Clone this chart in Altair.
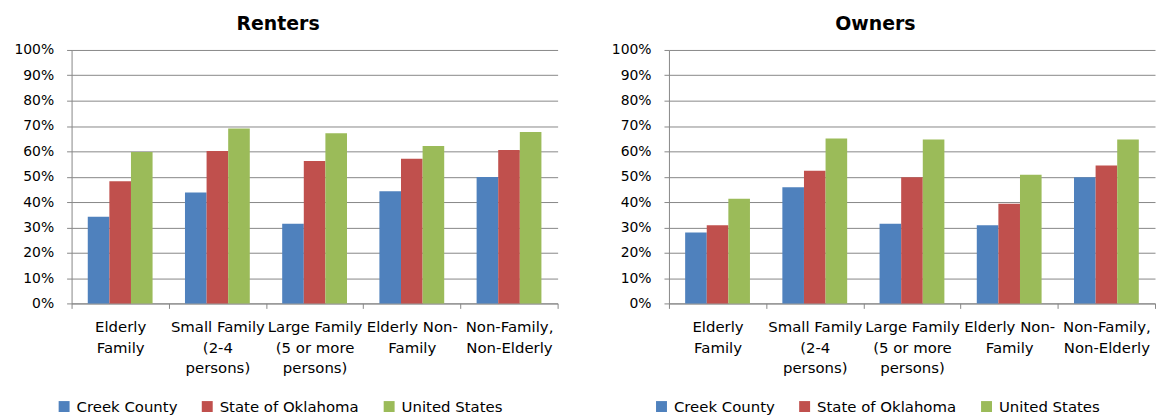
import altair as alt
import pandas as pd

categories = ["Elderly\nFamily", "Small Family\n(2-4\npersons)", "Large Family\n(5 or more\npersons)",
              "Elderly Non-\nFamily", "Non-Family,\nNon-Elderly"]
series = ["Creek County", "State of Oklahoma", "United States"]
colors = ["#4F81BD", "#C0504D", "#9BBB59"]

renters_creek = [0.342, 0.438, 0.314, 0.443, 0.499]
renters_ok = [0.482, 0.601, 0.562, 0.571, 0.605]
renters_us = [0.597, 0.690, 0.671, 0.621, 0.676]

owners_creek = [0.280, 0.458, 0.314, 0.308, 0.498]
owners_ok = [0.308, 0.523, 0.498, 0.393, 0.544]
owners_us = [0.413, 0.651, 0.647, 0.508, 0.647]

y_ticks = [0, 0.1, 0.2, 0.3, 0.4, 0.5, 0.6, 0.7, 0.8, 0.9, 1.0]

FONT = "DejaVu Sans"


def make_df(vals_list):
    rows = []
    for s, vals in zip(series, vals_list):
        for c, v in zip(categories, vals):
            rows.append({"category": c, "series": s, "value": v})
    return pd.DataFrame(rows)


def panel(title, df, legend_x):
    return alt.Chart(df, title=alt.TitleParams(title, anchor="middle", frame="bounds", dx=-8)).mark_bar().encode(
        x=alt.X("category:N", sort=categories, title=None,
                scale=alt.Scale(paddingInner=0, paddingOuter=0),
                axis=alt.Axis(labelAngle=0, tickBand="extent", tickSize=5, labelPadding=11,
                              labelExpr="split(datum.label, '\\n')", labelLineHeight=21,
                              labelFontSize=15, labelLimit=200, domainColor="#878787",
                              tickColor="#878787", grid=False)),
        xOffset=alt.XOffset("series:N", sort=series,
                            scale=alt.Scale(paddingInner=0, paddingOuter=0.75)),
        y=alt.Y("value:Q", title=None,
                scale=alt.Scale(domain=[0, 1], nice=False),
                axis=alt.Axis(values=y_ticks, format=".0%", tickSize=5, labelPadding=13,
                              labelFontSize=14, gridColor="#878787", domainColor="#878787",
                              tickColor="#878787")),
        color=alt.Color("series:N", sort=series, title=None,
                        scale=alt.Scale(domain=series, range=colors),
                        legend=alt.Legend(orient="none", legendX=legend_x, legendY=351,
                                          direction="horizontal", columns=3,
                                          symbolType="square", symbolSize=121,
                                          symbolStrokeWidth=0, labelFontSize=15,
                                          columnPadding=22, labelOffset=5)),
    ).properties(width=489, height=255)


left = panel("Renters", make_df([renters_creek, renters_ok, renters_us]), -15)
right = panel("Owners", make_df([owners_creek, owners_ok, owners_us]), -15)

chart = alt.hconcat(left, right, spacing=52).resolve_legend(color="independent").resolve_scale(
    color="independent").properties(
    padding={"left": 13, "top": 14, "right": 0, "bottom": 0}
).configure(font=FONT, background="white").configure_view(stroke=None).configure_title(
    fontSize=19, fontWeight="bold", color="#000000", offset=9, font=FONT
).configure_axis(labelColor="#000000", labelFont=FONT).configure_legend(labelColor="#000000", labelFont=FONT)

chart.save("out.html", embed_options={"renderer": "svg", "actions": False})
